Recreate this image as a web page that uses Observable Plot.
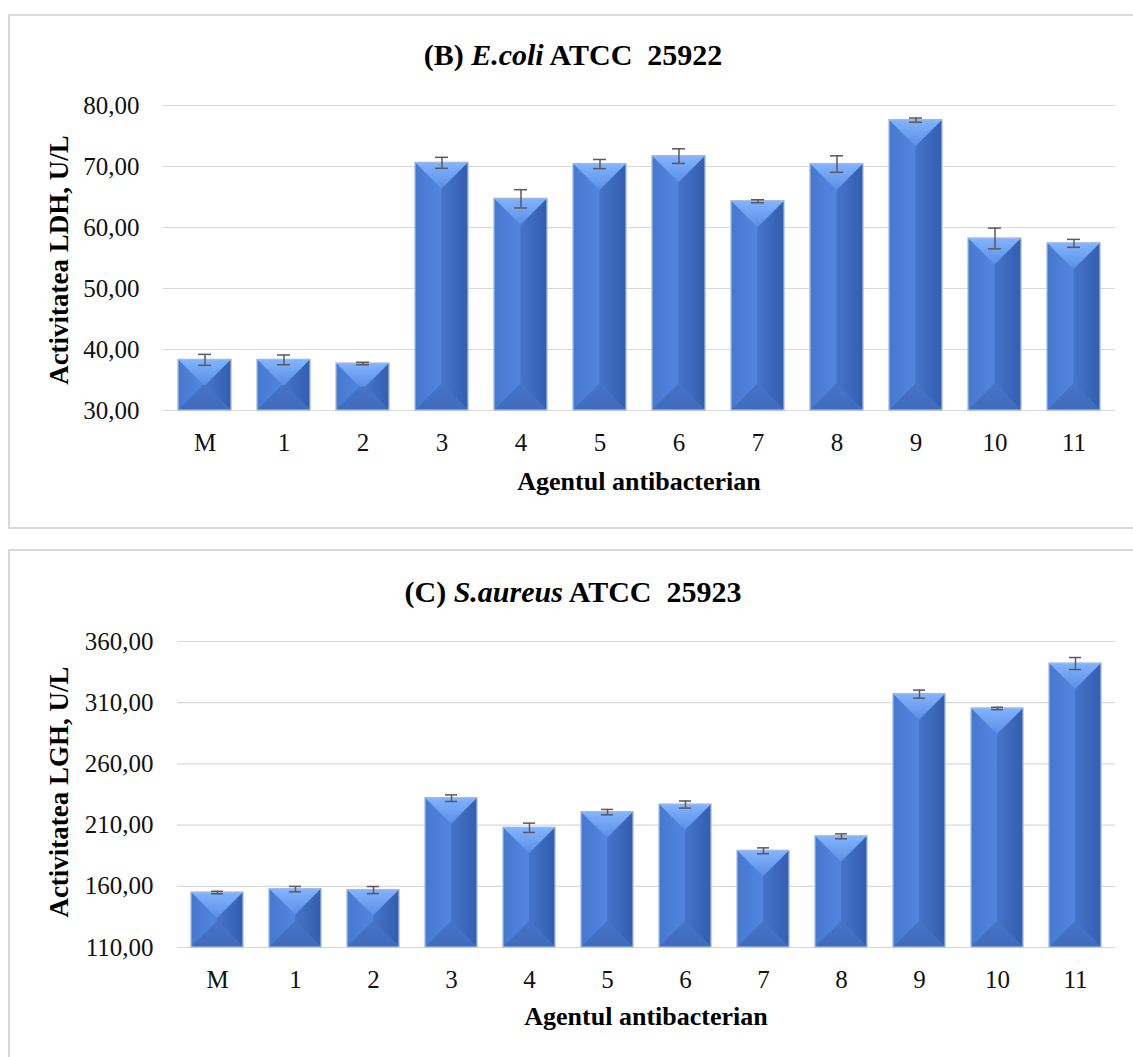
<!DOCTYPE html>
<html>
<head>
<meta charset="utf-8">
<script src="https://cdn.jsdelivr.net/npm/d3@7"></script>
<script src="https://cdn.jsdelivr.net/npm/@observablehq/plot@0.6"></script>
<style>
  html, body { margin: 0; padding: 0; background: #fff; }
  #page { position: relative; width: 1133px; height: 1057px; overflow: hidden; background: #fff; font-family: "Liberation Serif", "Times New Roman", serif; color: #000; }
  .box { position: absolute; border: 2px solid #d9d9d9; box-sizing: border-box; }
  .title { position: absolute; transform: translate(-50%, -50%); font-size: 30px; font-weight: bold; white-space: pre; line-height: 1; }
  .xtitle { position: absolute; transform: translate(-50%, -50%); font-size: 26px; font-weight: bold; white-space: pre; line-height: 1; }
  .ytitle { position: absolute; transform: translate(-50%, -50%) rotate(-90deg); font-size: 27px; font-weight: bold; white-space: pre; line-height: 1; }
  .chart { position: absolute; left: 0; }
  .chart svg { overflow: visible; }
</style>
</head>
<body>
<div id="page">
  <div class="box" style="left:8px; top:14px; width:1140px; height:515px;"></div>
  <div class="box" style="left:8px; top:549px; width:1140px; height:530px;"></div>

  <div class="title" style="left:573px; top:55px;">(B) <i>E.coli</i> ATCC  25922</div>
  <div class="title" style="left:573px; top:592px;">(C) <i>S.aureus</i> ATCC  25923</div>

  <div class="ytitle" style="left:59px; top:260px;">Activitatea LDH, U/L</div>
  <div class="ytitle" style="left:59px; top:792px;">Activitatea LGH, U/L</div>

  <div class="xtitle" style="left:639px; top:482px;">Agentul antibacterian</div>
  <div class="xtitle" style="left:646px; top:1017px;">Agentul antibacterian</div>

  <div class="chart" id="chartB" style="top:0px;"></div>
  <div class="chart" id="chartC" style="top:560px;"></div>
</div>

<script>
// Antibacterial agents on the x axis (M = control)
const categories = ["M", "1", "2", "3", "4", "5", "6", "7", "8", "9", "10", "11"];

// (B) E.coli ATCC 25922 — LDH activity, U/L, with error bars
const ecoliLDH = [38.3, 38.3, 37.7, 70.6, 64.7, 70.4, 71.7, 64.3, 70.4, 77.6, 58.2, 57.4];
const ecoliErr = [0.9, 0.8, 0.2, 0.9, 1.5, 0.75, 1.2, 0.25, 1.35, 0.35, 1.7, 0.65];
const ecoliTicks = [30, 40, 50, 60, 70, 80];

// (C) S.aureus ATCC 25923 — LGH activity, U/L, with error bars
const saureusLGH = [154.9, 157.7, 156.9, 232.0, 207.8, 220.6, 226.8, 189.0, 200.8, 317.0, 305.3, 342.0];
const saureusErr = [1.0, 2.2, 2.9, 2.7, 3.8, 2.2, 2.9, 2.4, 2.0, 3.3, 1.0, 4.9];
const saureusTicks = [110, 160, 210, 260, 310, 360];

const fmt = d => d.toFixed(2).replace(".", ",");

function barChart({values, errors, ticks, marginLeft, marginTop, marginBottom, height, paddingInner}) {
  const rows = categories.map((c, i) => ({cat: c, v: values[i], e: errors[i]}));
  const base = ticks[0];
  const caps = {x: "cat", stroke: "#595959", strokeWidth: 1.5, insetLeft: 20, insetRight: 20};
  return Plot.plot({
    width: 1133,
    height,
    marginLeft,
    marginRight: 18,
    marginTop,
    marginBottom,
    style: {fontFamily: "'Liberation Serif', 'Times New Roman', serif", fontSize: "25px", color: "#111", background: "transparent", overflow: "visible"},
    x: {domain: categories, paddingInner, paddingOuter: paddingInner / 2, label: null},
    y: {domain: [ticks[0], ticks[ticks.length - 1]], label: null},
    marks: [
      Plot.gridY(ticks, {stroke: "#d9d9d9", strokeOpacity: 1, strokeWidth: 1.2}),
      Plot.barY(rows, {x: "cat", y1: base, y2: "v", fill: "#4a7bd0"}),
      Plot.ruleX(rows, {x: "cat", y1: d => d.v - d.e, y2: d => d.v + d.e, stroke: "#595959", strokeWidth: 1.5}),
      Plot.tickY(rows, {...caps, y: d => d.v + d.e}),
      Plot.tickY(rows, {...caps, y: d => d.v - d.e}),
      Plot.axisY(ticks, {tickSize: 0, tickPadding: 24, tickFormat: fmt, label: null}),
      Plot.axisX({tickSize: 0, tickPadding: 23, label: null})
    ]
  });
}

// Bevelled look for each bar: four faces built from the rendered rect geometry
function bevel(svg, id) {
  const ns = "http://www.w3.org/2000/svg";
  const defs = document.createElementNS(ns, "defs");
  defs.innerHTML = `
    <linearGradient id="${id}-top" x1="0" y1="0" x2="0" y2="1">
      <stop offset="0" stop-color="#84b4ff"/><stop offset="1" stop-color="#5a8ee6"/>
    </linearGradient>
    <linearGradient id="${id}-left" x1="0" y1="0" x2="1" y2="0">
      <stop offset="0" stop-color="#4778cf"/><stop offset="1" stop-color="#5286de"/>
    </linearGradient>
    <linearGradient id="${id}-right" x1="0" y1="0" x2="1" y2="0">
      <stop offset="0" stop-color="#4574ca"/><stop offset="1" stop-color="#325eae"/>
    </linearGradient>
    <linearGradient id="${id}-bottom" x1="0" y1="0" x2="0" y2="1">
      <stop offset="0" stop-color="#4674c7"/><stop offset="1" stop-color="#3e6bbd"/>
    </linearGradient>`;
  svg.insertBefore(defs, svg.firstChild);
  svg.querySelectorAll('g[aria-label="bar"] rect').forEach(r => {
    const x0 = +r.getAttribute("x"), y0 = +r.getAttribute("y");
    const w = +r.getAttribute("width"), h = +r.getAttribute("height");
    const x1 = x0 + w, y1 = y0 + h;
    const d = Math.min(w / 2, h / 2);
    const faces = [
      [`${id}-left`, [[x0, y0], [x0 + d, y0 + d], [x0 + d, y1 - d], [x0, y1]]],
      [`${id}-right`, [[x1, y0], [x1 - d, y0 + d], [x1 - d, y1 - d], [x1, y1]]],
      [`${id}-bottom`, [[x0, y1], [x0 + d, y1 - d], [x1 - d, y1 - d], [x1, y1]]],
      [`${id}-top`, [[x0, y0], [x1, y0], [x1 - d, y0 + d], [x0 + d, y0 + d]]]
    ];
    const g = r.parentNode;
    for (const [grad, pts] of faces) {
      const p = document.createElementNS(ns, "polygon");
      p.setAttribute("points", pts.map(q => q.join(",")).join(" "));
      p.setAttribute("fill", `url(#${grad})`);
      g.appendChild(p);
    }
    const edge = document.createElementNS(ns, "rect");
    ["x", "y", "width", "height"].forEach(a => edge.setAttribute(a, r.getAttribute(a)));
    edge.setAttribute("fill", "none");
    edge.setAttribute("stroke", "#a3b9e2");
    edge.setAttribute("stroke-width", "1.3");
    g.appendChild(edge);
  });
}

const chartB = barChart({values: ecoliLDH, errors: ecoliErr, ticks: ecoliTicks,
  marginLeft: 163, marginTop: 105, marginBottom: 50, height: 460, paddingInner: 0.33});
bevel(chartB, "bvB");
document.getElementById("chartB").appendChild(chartB);

const chartC = barChart({values: saureusLGH, errors: saureusErr, ticks: saureusTicks,
  marginLeft: 177, marginTop: 81, marginBottom: 53, height: 440, paddingInner: 0.335});
bevel(chartC, "bvC");
document.getElementById("chartC").appendChild(chartC);
</script>
</body>
</html>
